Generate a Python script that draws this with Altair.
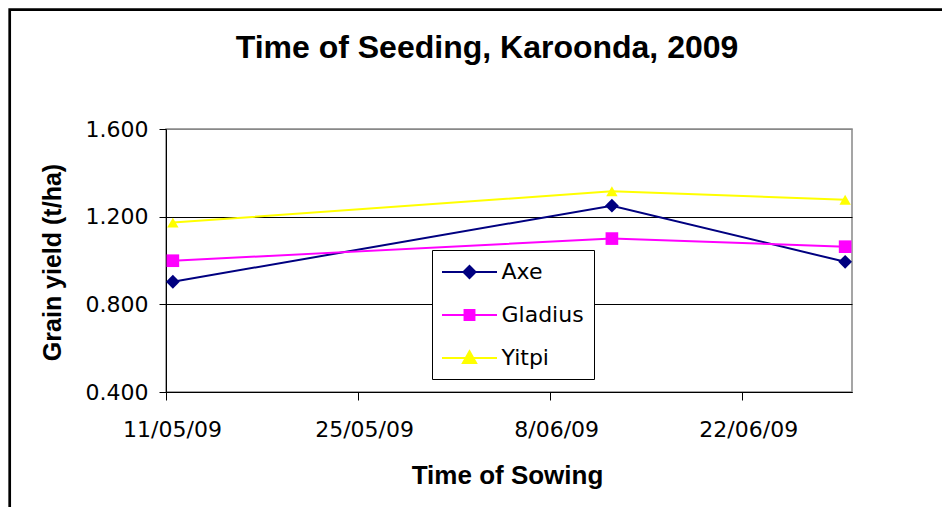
import altair as alt
import pandas as pd

# ---- data ----
series = ["Axe", "Gladius", "Yitpi"]
dates = ["2009-05-11", "2009-06-12", "2009-06-29"]
axe = [0.903, 1.250, 0.994]
gladius = [0.999, 1.100, 1.063]
yitpi = [1.173, 1.316, 1.277]
colors = ["#000080", "#FF00FF", "#FFFF00"]
x_ticks = ["2009-05-11", "2009-05-25", "2009-06-08", "2009-06-22"]
x_domain = ["2009-05-11", "2009-06-30"]
y_ticks = [0.4, 0.8, 1.2, 1.6]

rows = []
for name, vals in zip(series, [axe, gladius, yitpi]):
    for d, v in zip(dates, vals):
        rows.append({"series": name, "date": d, "yield": v})
df = pd.DataFrame(rows)


def dt(s):
    y, m, d = map(int, s.split("-"))
    return alt.DateTime(year=y, month=m, date=d, utc=True)


LABEL_FONT = "DejaVu Sans"
TITLE_FONT = "Liberation Sans"

x_enc = alt.X(
    "t:T",
    scale=alt.Scale(type="utc", domain=[dt(s) for s in x_domain]),
    axis=alt.Axis(
        values=[dt(s) for s in x_ticks],
        labelExpr="utcdate(datum.value) + '/' + utcFormat(datum.value, '%m/%y')",
        title="Time of Sowing",
        grid=False,
        domainColor="black",
        tickColor="black",
        tickSize=8,
        labelFont=LABEL_FONT,
        labelFontSize=22,
        labelColor="black",
        labelPadding=19,
        labelOffset=6,
        labelFlush=False,
        labelOverlap=False,
        titleFont=TITLE_FONT,
        titleFontSize=26,
        titleFontWeight="bold",
        titleColor="black",
        titleX=341,
        titleY=91,
        titleAlign="center",
        titleBaseline="alphabetic",
    ),
)

y_enc = alt.Y(
    "yield:Q",
    scale=alt.Scale(domain=[0.4, 1.6], nice=False, zero=False),
    axis=alt.Axis(
        values=y_ticks,
        format=".3f",
        title="Grain yield (t/ha)",
        grid=True,
        gridColor={"condition": {"test": "datum.value >= 1.59", "value": "#888888"}, "value": "#000000"},
        gridWidth=1,
        domainColor="black",
        tickColor="black",
        tickSize=7,
        labelFont=LABEL_FONT,
        labelFontSize=22,
        labelColor="black",
        labelPadding=11,
        labelFlush=False,
        titleFont=TITLE_FONT,
        titleFontSize=25,
        titleFontWeight="bold",
        titleColor="black",
        titleAngle=270,
        titleX=-106,
        titleY=133,
        titleAlign="center",
        titleBaseline="alphabetic",
    ),
)

color_enc = alt.Color("series:N", scale=alt.Scale(domain=series, range=colors), legend=None)

base = alt.Chart(df).transform_calculate(
    t="toDate(datum.date) + 43200000"
)

lines = base.mark_line(strokeWidth=2).encode(x=x_enc, y=y_enc, color=color_enc)

points = base.mark_point(filled=True, opacity=1).encode(
    x=x_enc,
    y=y_enc,
    color=color_enc,
    shape=alt.Shape("series:N", scale=alt.Scale(domain=series, range=["diamond", "square", "triangle-up"]), legend=None),
    size=alt.Size("series:N", scale=alt.Scale(domain=series, range=[190, 130, 210]), legend=None),
)

legend_paths = [
    "M-2.5,0H2.5M0,-0.55L0.55,0L0,0.55L-0.55,0Z",
    "M-2.5,0H2.5M-0.45,-0.45H0.45V0.45H-0.45Z",
    "M-2.5,0H2.5M0,-0.62L0.6,0.45L-0.6,0.45Z",
]

legend_layer = base.mark_point(filled=True, opacity=0).encode(
    x=x_enc,
    y=y_enc,
    color=color_enc,
    shape=alt.Shape(
        "series:N",
        scale=alt.Scale(domain=series, range=legend_paths),
        legend=alt.Legend(
            title=None,
            orient="none",
            legendX=266,
            legendY=121,
            direction="vertical",
            symbolSize=484,
            symbolOffset=15.5,
            labelOffset=20,
            rowPadding=20,
            padding=10,
            strokeColor="black",
            fillColor="white",
            labelFont=LABEL_FONT,
            labelFontSize=22,
            labelColor="black",
            symbolStrokeWidth=2,
            symbolOpacity=1,
            symbolFillColor={"expr": "scale('color', datum.value)"},
            symbolStrokeColor={"expr": "scale('color', datum.value)"},
        ),
    ),
)

border = alt.Chart(alt.Data(values=[{}])).mark_rect(
    fillOpacity=0, stroke="black", strokeWidth=2.7
).encode(x=alt.value(-156.3), x2=alt.value(900), y=alt.value(-119.3), y2=alt.value(500))

title = alt.Chart(alt.Data(values=[{}])).mark_text(
    text="Time of Seeding, Karoonda, 2009",
    font=TITLE_FONT,
    fontSize=32,
    fontWeight="bold",
    color="black",
    align="center",
    baseline="alphabetic",
).encode(x=alt.value(321), y=alt.value(-70.7))

chart = (
    alt.layer(border, lines, points, legend_layer, title)
    .resolve_scale(shape="independent")
    .properties(
        width=686,
        height=263,
        autosize=alt.AutoSizeParams(type="none"),
        padding={"left": 158, "top": 121, "right": 90, "bottom": 115},
        background="white",
    )
    .configure_view(stroke="#888888", strokeWidth=1.5)
)

chart.save("out.html", embed_options={"renderer": "svg", "actions": False})
